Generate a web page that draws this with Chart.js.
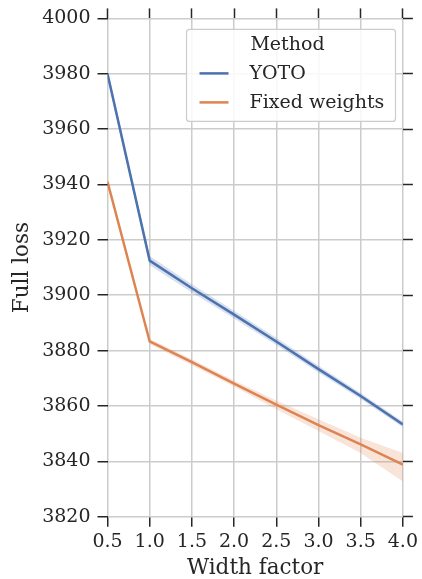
<!DOCTYPE html>
<html>
<head>
<meta charset="utf-8">
<script src="https://cdn.jsdelivr.net/npm/chart.js@4.4.1/dist/chart.umd.min.js"></script>
<style>
  html, body { margin: 0; padding: 0; background: #fff; }
  #wrap { width: 422px; height: 579px; }
</style>
</head>
<body>
<div id="wrap"><canvas id="lossChart" width="422" height="579"></canvas></div>
<script>
const widthFactors = [0.5, 1.0, 1.5, 2.0, 2.5, 3.0, 3.5, 4.0];
const yotoLoss = [3980, 3912.5, 3902.5, 3893, 3883.3, 3873.3, 3863.6, 3853.3];
const yotoLow  = [3978.3, 3910.8, 3901, 3891.6, 3882, 3872.1, 3862.5, 3852.3];
const yotoHigh = [3981.7, 3914.2, 3904, 3894.4, 3884.6, 3874.5, 3864.7, 3854.3];
const fixedLoss = [3941, 3883.3, 3875.8, 3868.1, 3860.5, 3853.1, 3846.1, 3838.8];
const fixedLow  = [3940.3, 3882.4, 3874.7, 3867, 3858.8, 3851, 3843, 3832.7];
const fixedHigh = [3941.7, 3884.2, 3876.9, 3869.2, 3862, 3855.2, 3848.5, 3843];
const yTicks = [3820, 3840, 3860, 3880, 3900, 3920, 3940, 3960, 3980, 4000];
const legendTitle = 'Method';

const blue = '#4c72b0';
const orange = '#dd8452';
const font = "'DejaVu Serif', serif";

function pts(ys) { return widthFactors.map((x, i) => ({ x: x, y: ys[i] })); }

// seaborn-style legend box inside the axes, top right
const legendBox = {
  id: 'legendBox',
  afterDraw(chart) {
    const ctx = chart.ctx;
    const a = chart.chartArea;
    const x0 = a.left + 79, y0 = a.top + 11, w = 209, h = 92;
    ctx.save();
    ctx.fillStyle = 'rgba(255,255,255,0.85)';
    ctx.strokeStyle = '#cccccc';
    ctx.lineWidth = 1.2;
    ctx.beginPath();
    ctx.roundRect(x0, y0, w, h, 3);
    ctx.fill();
    ctx.stroke();
    ctx.font = '19px ' + font;
    ctx.fillStyle = '#262626';
    ctx.textBaseline = 'middle';
    ctx.textAlign = 'center';
    ctx.fillText(legendTitle, x0 + 101, y0 + 16);
    ctx.textAlign = 'left';
    chart.data.datasets.filter(d => d.inLegend).forEach((d, i) => {
      const yy = y0 + 44 + i * 29;
      ctx.strokeStyle = d.borderColor;
      ctx.lineWidth = 2.5;
      ctx.beginPath();
      ctx.moveTo(x0 + 13, yy);
      ctx.lineTo(x0 + 42, yy);
      ctx.stroke();
      ctx.fillStyle = '#262626';
      ctx.fillText(d.label, x0 + 63, yy + 1);
    });
    ctx.restore();
  }
};

const gridCol = '#cccccc';
const tickCol = '#262626';

new Chart(document.getElementById('lossChart'), {
  type: 'line',
  data: {
    datasets: [
      { label: 'yotoHigh', data: pts(yotoHigh), borderWidth: 0, pointRadius: 0, fill: '+1', backgroundColor: 'rgba(76,114,176,0.22)' },
      { label: 'yotoLow', data: pts(yotoLow), borderWidth: 0, pointRadius: 0, fill: false },
      { label: 'fixedHigh', data: pts(fixedHigh), borderWidth: 0, pointRadius: 0, fill: '+1', backgroundColor: 'rgba(221,132,82,0.22)' },
      { label: 'fixedLow', data: pts(fixedLow), borderWidth: 0, pointRadius: 0, fill: false },
      { label: 'YOTO', inLegend: true, data: pts(yotoLoss), borderColor: blue, borderWidth: 2.5, pointRadius: 0, fill: false },
      { label: 'Fixed weights', inLegend: true, data: pts(fixedLoss), borderColor: orange, borderWidth: 2.5, pointRadius: 0, fill: false }
    ]
  },
  options: {
    responsive: false,
    animation: false,
    layout: { padding: { left: 5, right: 7, top: 8, bottom: 0 } },
    plugins: { legend: { display: false }, tooltip: { enabled: false } },
    scales: {
      x: {
        type: 'linear', position: 'bottom', min: 0.5, max: 4.0,
        ticks: { stepSize: 0.5, color: tickCol, font: { family: font, size: 19 }, padding: 4, maxRotation: 0,
                 callback: v => v.toFixed(1) },
        grid: { color: gridCol, lineWidth: 1.5, tickColor: tickCol, tickLength: 10, tickWidth: 1.5 },
        border: { display: false },
        title: { display: true, text: 'Width factor', color: tickCol, font: { family: font, size: 21.5, lineHeight: 1.0 }, padding: { top: 0, bottom: 0 } }
      },
      x2: {
        type: 'linear', position: 'top', min: 0.5, max: 4.0,
        ticks: { stepSize: 0.5, display: false },
        grid: { drawOnChartArea: false, tickColor: tickCol, tickLength: 10, tickWidth: 1.5 },
        border: { display: false }
      },
      y: {
        position: 'left', min: 3820, max: 4000,
        afterBuildTicks: s => { s.ticks = yTicks.map(v => ({ value: v })); },
        ticks: { color: tickCol, font: { family: font, size: 19 }, padding: 7, callback: v => String(v) },
        grid: { color: gridCol, lineWidth: 1.5, tickColor: tickCol, tickLength: 10, tickWidth: 1.5 },
        border: { display: false },
        title: { display: true, text: 'Full loss', color: tickCol, font: { family: font, size: 21.5 }, padding: { top: 5, bottom: 6 } }
      },
      y2: {
        position: 'right', min: 3820, max: 4000,
        afterBuildTicks: s => { s.ticks = yTicks.map(v => ({ value: v })); },
        ticks: { display: false },
        grid: { drawOnChartArea: false, tickColor: tickCol, tickLength: 10, tickWidth: 1.5 },
        border: { display: false }
      }
    }
  },
  plugins: [legendBox]
});
</script>
</body>
</html>
